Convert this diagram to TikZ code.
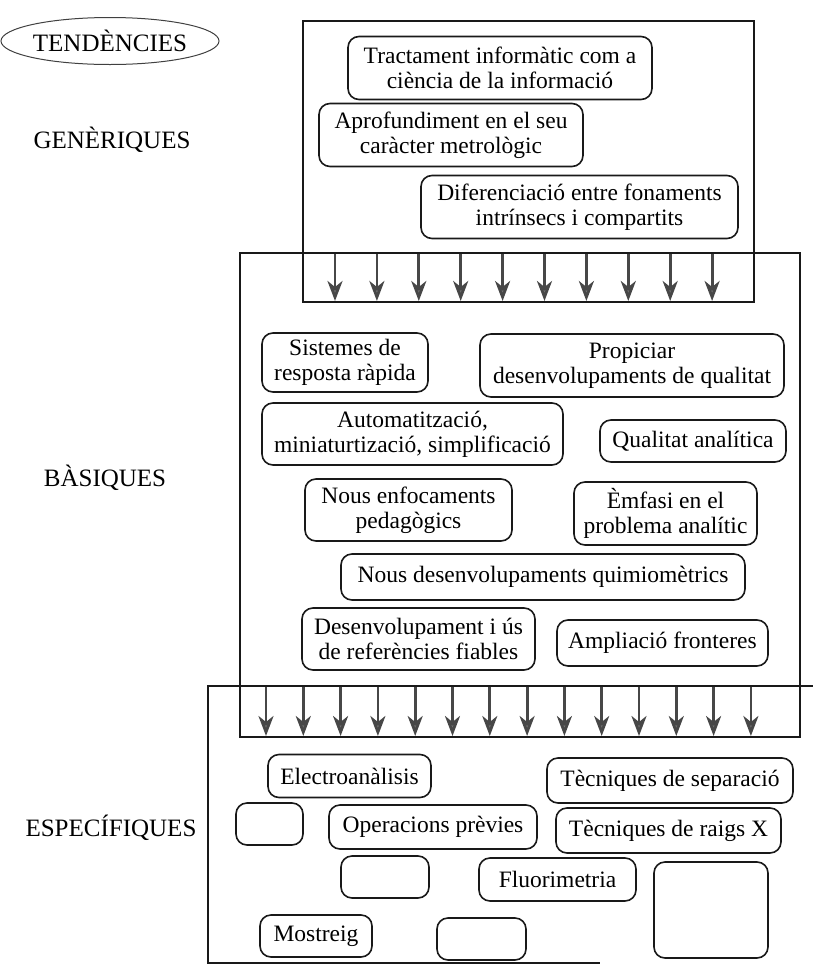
\documentclass[tikz,border=0pt]{standalone}
\usepackage{fontspec}
\setmainfont{Liberation Serif}
\usetikzlibrary{shapes.geometric,arrows.meta}
\begin{document}
\begin{tikzpicture}[x=1pt,y=-1pt,
  frame/.style={draw=black!90,line width=1.8pt,rectangle,inner sep=0pt},
  rbox/.style={draw=black!90,line width=1.6pt,rounded corners=11pt,align=center,inner sep=0pt,
    font=\fontsize{23.5}{25}\selectfont},
  lab/.style={font=\fontsize{25}{27}\selectfont,inner sep=0pt},
  arr/.style={draw=black!72,line width=2.8pt,-{Stealth[length=20pt,width=15pt,inset=6pt,fill=black!55]}}
]
\useasboundingbox (0,0) rectangle (813,970);
% left labels
\node[draw=black!75,line width=1pt,ellipse,minimum width=205pt,minimum height=47pt,inner sep=0pt,
  font=\fontsize{25}{27}\selectfont] (tend) at (110,41) {TENDÈNCIES};
\node[lab] (gen) at (112,140) {GENÈRIQUES};
\node[lab] (bas) at (105,478) {BÀSIQUES};
\node[lab] (esp) at (111,828) {ESPECÍFIQUES};
% outer frames
\node[frame,minimum width=451pt,minimum height=281pt] (fgen) at (528.5,161.5) {};
\node[frame,minimum width=560pt,minimum height=484pt] (fbas) at (520,495) {};
\coordinate (e1) at (813,686);
\coordinate (e2) at (208,686);
\coordinate (e3) at (208,963);
\coordinate (e4) at (600,963);
\draw[draw=black!90,line width=1.8pt] (e1) -- (e2) -- (e3) -- (e4);
% arrows generic -> basic
\foreach \i in {0,...,9}{
  \coordinate (ga\i) at ({335+41.9*\i},254);
  \coordinate (gb\i) at ({335+41.9*\i},301);
  \draw[arr] (ga\i) -- (gb\i);
}
% arrows basic -> specific
\foreach \i in {0,...,13}{
  \coordinate (ba\i) at ({266+37.3*\i},687);
  \coordinate (bb\i) at ({266+37.3*\i},736);
  \draw[arr] (ba\i) -- (bb\i);
}
% generic boxes
\node[rbox,minimum width=304pt,minimum height=63pt] (t1) at (500,68) {Tractament informàtic com a\\ciència de la informació};
\node[rbox,minimum width=264pt,minimum height=63pt] (t2) at (451,135) {Aprofundiment en el seu\\caràcter metrològic};
\node[rbox,minimum width=317pt,minimum height=63pt] (t3) at (579.5,207) {Diferenciació entre fonaments\\intrínsecs i compartits};
% basic boxes
\node[rbox,minimum width=166pt,minimum height=59pt] (m1) at (345,362.5) {Sistemes de\\resposta ràpida};
\node[rbox,minimum width=304pt,minimum height=63pt] (m2) at (632,365.5) {Propiciar\\desenvolupaments de qualitat};
\node[rbox,minimum width=301pt,minimum height=62pt] (m3) at (412.5,434) {Automatització,\\miniaturtizació, simplificació};
\node[rbox,minimum width=186pt,minimum height=42pt] (m4) at (693,441) {Qualitat analítica};
\node[rbox,minimum width=207pt,minimum height=62pt] (m5) at (408.5,510) {Nous enfocaments\\pedagògics};
\node[rbox,minimum width=183pt,minimum height=63pt] (m6) at (665.5,513.5) {Èmfasi en el\\problema analític};
\node[rbox,minimum width=404pt,minimum height=46pt] (m7) at (543,577) {Nous desenvolupaments quimiomètrics};
\node[rbox,minimum width=233pt,minimum height=62pt] (m8) at (418.5,639) {Desenvolupament i ús\\de referències fiables};
\node[rbox,minimum width=211pt,minimum height=46pt] (m9) at (662.5,643) {Ampliació fronteres};
% specific boxes
\node[rbox,minimum width=163pt,minimum height=43pt] (b1) at (349.5,776) {Electroanàlisis};
\node[rbox,minimum width=246pt,minimum height=45pt] (b2) at (670,780.5) {Tècniques de separació};
\node[rbox,minimum width=67pt,minimum height=42pt] (b3) at (269.5,824) {};
\node[rbox,minimum width=208pt,minimum height=44pt] (b4) at (433,827) {Operacions prèvies};
\node[rbox,minimum width=225pt,minimum height=45pt] (b5) at (668.5,830.5) {Tècniques de raigs X};
\node[rbox,minimum width=88pt,minimum height=42pt] (b6) at (385,877) {};
\node[rbox,minimum width=157pt,minimum height=43pt] (b7) at (557.5,879.5) {Fluorimetria};
\node[rbox,minimum width=114pt,minimum height=96pt] (b8) at (711,910) {};
\node[rbox,minimum width=112pt,minimum height=42pt] (b9) at (316,936) {Mostreig};
\node[rbox,minimum width=89pt,minimum height=42pt] (b10) at (481.5,939) {};
\end{tikzpicture}
\end{document}
